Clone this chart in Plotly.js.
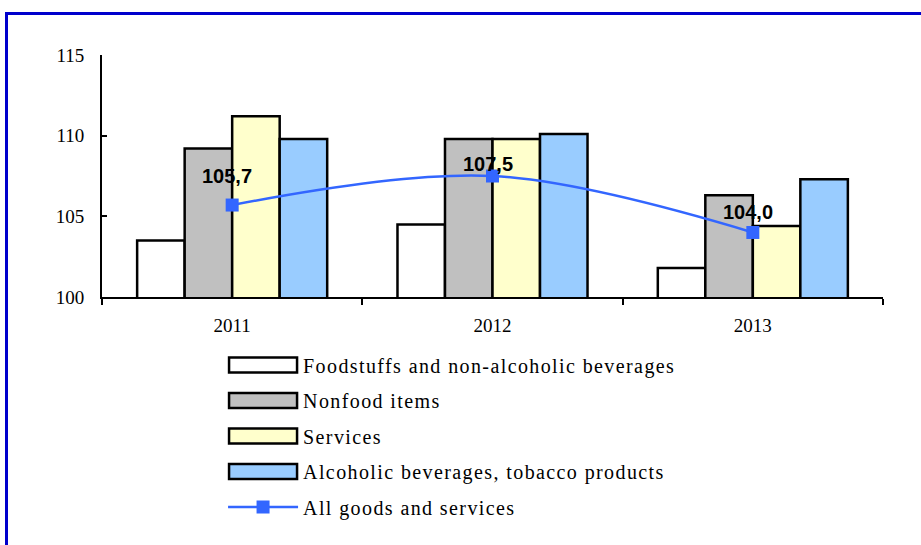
<!DOCTYPE html>
<html>
<head>
<meta charset="utf-8">
<script src="https://cdn.plot.ly/plotly-3.0.1.min.js"></script>
<style>
  html, body { margin: 0; padding: 0; background: #fff; }
  #wrap { position: relative; width: 921px; height: 545px; overflow: hidden; }
  #chart { position: absolute; left: 0; top: 0; width: 921px; height: 545px; }
  #frame { position: absolute; left: 5px; top: 12px; right: -10px; bottom: -10px;
           border-top: 3px solid #0000CC; border-left: 3px solid #0000CC; pointer-events: none; }
  .legendtext { letter-spacing: 1.4px; }
</style>
</head>
<body>
<div id="wrap">
  <div id="chart"></div>
  <div id="frame"></div>
</div>
<script>
const years = ['2011', '2012', '2013'];
const foodstuffs = [103.5, 104.5, 101.8];
const nonfood = [109.2, 109.8, 106.3];
const services = [111.2, 109.8, 104.4];
const alcohol = [109.8, 110.1, 107.3];
const allGoods = [105.7, 107.5, 104.0];
const seriesNames = ['Foodstuffs and non-alcoholic beverages', 'Nonfood items', 'Services',
                     'Alcoholic beverages, tobacco products', 'All goods and services'];
const yTicks = [100, 105, 110, 115];

const barColors = ['#FFFFFF', '#C0C0C0', '#FFFFCC', '#99CCFF'];
const barSeries = [foodstuffs, nonfood, services, alcohol];
const serif = 'Liberation Serif, Times New Roman, serif';

const traces = barSeries.map((vals, i) => ({
  type: 'bar', x: years, y: vals, name: seriesNames[i], legendgroup: 'g' + i,
  marker: { color: barColors[i], line: { color: '#000', width: 2.5 } },
  hoverinfo: 'x+y'
}));
traces.push({
  type: 'scatter', mode: 'lines+markers', x: years, y: allGoods, name: seriesNames[4], legendgroup: 'g4',
  line: { color: '#3366FF', width: 2.5, shape: 'spline', smoothing: 1 },
  marker: { symbol: 'square', size: 13, color: '#3366FF' }
});

const labelShift = [[-5, 29], [-5, 12], [-5, 20]];
const annotations = allGoods.map((v, i) => ({
  x: i, y: v, xref: 'x', yref: 'y', text: v.toFixed(1).replace('.', ','), showarrow: false,
  xshift: labelShift[i][0], yshift: labelShift[i][1],
  font: { family: 'Liberation Sans, Arial, sans-serif', size: 20, color: '#000', weight: 'bold' }
}));

const layout = {
  width: 921, height: 545,
  margin: { l: 102, r: 38, t: 55, b: 248 },
  paper_bgcolor: '#fff', plot_bgcolor: '#fff',
  barmode: 'group', bargap: 0.27, bargroupgap: 0,
  showlegend: true,
  legend: {
    x: 0.155, y: -0.2, xanchor: 'left', yanchor: 'top',
    font: { family: serif, size: 20, color: '#000' },
    traceorder: 'grouped', tracegroupgap: 6.5, itemwidth: 70,
    bgcolor: 'rgba(0,0,0,0)'
  },
  xaxis: {
    type: 'category', range: [-0.5, 2.5], showline: true, linecolor: '#000', linewidth: 2,
    ticks: 'outside', ticklen: 6, tickwidth: 2, tickcolor: '#000', tickson: 'boundaries',
    tickangle: 0, ticklabelstandoff: 10,
    tickfont: { family: serif, size: 19, color: '#000' }, showgrid: false, zeroline: false,
    fixedrange: true
  },
  yaxis: {
    range: [100, 115], tickvals: yTicks, showline: true, linecolor: '#000', linewidth: 2,
    ticks: 'inside', ticklen: 5, tickwidth: 2, tickcolor: '#000',
    tickfont: { family: serif, size: 19, color: '#000' }, ticklabelstandoff: 12,
    showgrid: false, zeroline: false, fixedrange: true
  },
  annotations: annotations
};

Plotly.newPlot('chart', traces, layout, { displayModeBar: false, staticPlot: true }).then(gd => {
  // widen the bar legend swatches to long boxes, as in the reference
  gd.querySelectorAll('.legend .traces').forEach(tr => {
    tr.querySelectorAll('.legendpoints path.legendbar, .legendpoints path.legendundefined').forEach(p => {
      p.setAttribute('d', 'M34,7.5H-34V-7.5H34Z');
    });
  });
});
</script>
</body>
</html>
